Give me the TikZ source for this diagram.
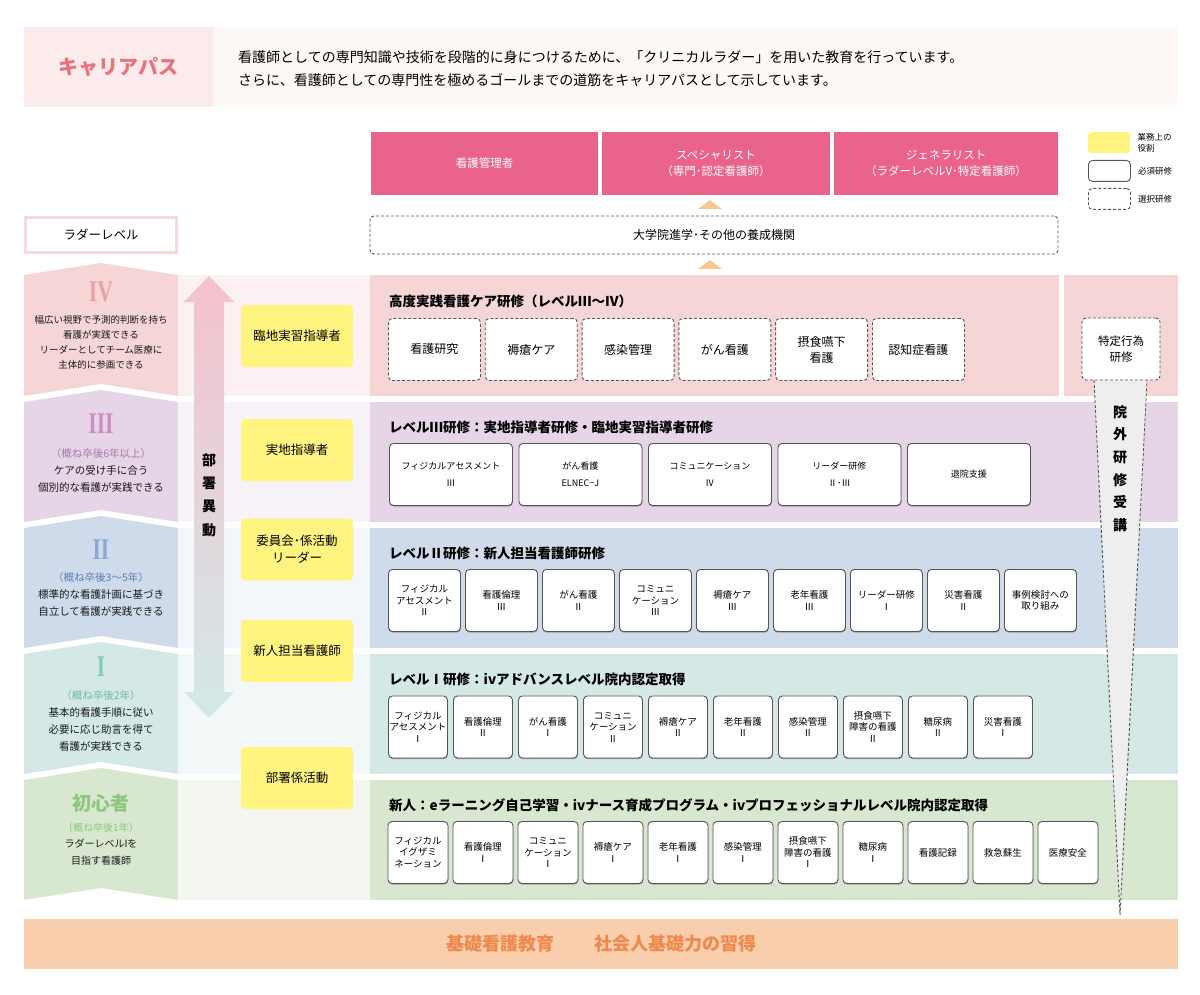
\documentclass[tikz,border=0pt]{standalone}
\usepackage{fontspec}
\setmainfont{Noto Sans CJK JP}
\newfontfamily\numfont{Liberation Serif}
\usetikzlibrary{positioning,shadows}

\newcommand{\fsz}[2]{\fontsize{#1}{#2}\selectfont}
\newcommand{\narrownum}[1]{\scalebox{0.72}[1]{#1}}

\definecolor{headpink}{HTML}{FBEBEA}
\definecolor{headlight}{HTML}{FEF8F7}
\definecolor{titlered}{HTML}{E8737C}
\definecolor{rolepink}{HTML}{E9638A}
\definecolor{triorange}{HTML}{F8C98C}
\definecolor{ladderpink}{HTML}{F8D8D9}
\definecolor{lvfour}{HTML}{F6D5D6}
\definecolor{lvthree}{HTML}{E6D4E7}
\definecolor{lvtwo}{HTML}{CFDBEA}
\definecolor{lvone}{HTML}{D4E8E6}
\definecolor{lvnew}{HTML}{D8E8D0}
\definecolor{midfour}{HTML}{FCF1F2}
\definecolor{midthree}{HTML}{F8F3F8}
\definecolor{midtwo}{HTML}{F3F6FA}
\definecolor{midone}{HTML}{F2F7F7}
\definecolor{midnew}{HTML}{F3F7F0}
\definecolor{numfour}{HTML}{EE9EA5}
\definecolor{numthree}{HTML}{C98EC6}
\definecolor{numtwo}{HTML}{8BA6D6}
\definecolor{numone}{HTML}{7ECABF}
\definecolor{numnew}{HTML}{8DC77F}
\definecolor{subthree}{HTML}{A57AA8}
\definecolor{subtwo}{HTML}{5C7EB5}
\definecolor{subone}{HTML}{6DB9AF}
\definecolor{roleyellow}{HTML}{FFF480}
\definecolor{funnelgray}{HTML}{EEEEEE}
\definecolor{basepeach}{HTML}{F9CEAD}
\definecolor{baseorange}{HTML}{F08A4C}
\definecolor{arrowtop}{HTML}{F4C1CD}
\definecolor{arrowmid}{HTML}{E6D3E6}
\definecolor{arrowbottom}{HTML}{D3E8E8}
\definecolor{boxline}{HTML}{555555}

\begin{document}
\begin{tikzpicture}[x=1pt, y=-1pt,
    rolebox/.style={fill=rolepink, text=white, inner sep=0pt, minimum height=63pt, align=center, font=\fsz{11.5}{16}},
    dutybox/.style={fill=roleyellow, rounded corners=4pt, inner sep=0pt, minimum width=112pt, minimum height=62pt, align=center, font=\fsz{12.5}{17}},
    optbox/.style={draw=boxline, fill=white, dashed, dash pattern=on 3pt off 2pt, line width=0.9pt, rounded corners=4pt, inner sep=0pt, align=center},
    reqbox/.style={draw=boxline, fill=white, line width=0.9pt, rounded corners=4pt, inner sep=0pt, align=center,
        drop shadow={shadow xshift=0.3pt, shadow yshift=-1.2pt, opacity=0.55, fill=black!60}},
    rowtitle/.style={anchor=west, inner sep=0pt, font=\fsz{13.5}{16}\bfseries},
    levelnum/.style={inner sep=0pt, font=\numfont\bfseries\fsz{30}{30}},
    leveldesc/.style={inner sep=0pt, align=center, text=black!90}]
    \useasboundingbox (0,0) rectangle (1200,995);

    % En-tete
    \fill[headpink] (24,27) rectangle (213,107);
    \fill[headlight] (213,27) rectangle (1178,107);
    \node[text=titlered, font=\fsz{20}{24}\bfseries] (title) at (118.5,67) {キャリアパス};
    \node[anchor=west, inner sep=0pt, font=\fsz{14}{16}] (intro1) at (238,57) {看護師としての専門知識や技術を段階的に身につけるために、「クリニカルラダー」を用いた教育を行っています。};
    \node[anchor=west, inner sep=0pt, font=\fsz{14}{16}] (intro2) at (238,80) {さらに、看護師としての専門性を極めるゴールまでの道筋をキャリアパスとして示しています。};

    % Roles en haut
    \node[rolebox, minimum width=227pt] (kanri) at (484.5,163.5) {看護管理者};
    \node[rolebox, minimum width=228pt] (spec) at (716,163.5) {スペシャリスト\\（専門･認定看護師）};
    \node[rolebox, minimum width=224pt] (gene) at (946,163.5) {ジェネラリスト\\（ラダーレベルV･特定看護師）};

    % Legende
    \node[fill=roleyellow, rounded corners=3pt, minimum width=42pt, minimum height=21pt, anchor=north west, inner sep=0pt] (legduty) at (1088,132) {};
    \node[right=7pt of legduty, inner sep=0pt, align=left, font=\fsz{8.5}{11}] (legdutytxt) {業務上の\\役割};
    \node[draw=boxline, line width=0.9pt, rounded corners=4pt, minimum width=42pt, minimum height=21pt, anchor=north west, inner sep=0pt] (legreq) at (1088,160) {};
    \node[right=7pt of legreq, inner sep=0pt, font=\fsz{8.5}{11}] (legreqtxt) {必須研修};
    \node[optbox, minimum width=42pt, minimum height=21pt, anchor=north west] (legopt) at (1088,188) {};
    \node[right=7pt of legopt, inner sep=0pt, font=\fsz{8.5}{11}] (legopttxt) {選択研修};

    % Triangles et organismes
    \node[optbox, minimum width=688pt, minimum height=38pt, font=\fsz{12}{14}] (grad) at (714,235) {大学院進学･その他の養成機関};
    \fill[triorange] (698,209) -- (722,209) -- (710,200) -- cycle;
    \fill[triorange] (698,269) -- (722,269) -- (710,260) -- cycle;
    \node[draw=ladderpink, line width=3pt, fill=white, minimum width=151pt, minimum height=35pt, font=\fsz{12.5}{14}] (ladder) at (101,235) {ラダーレベル};

    % Bandes des niveaux
    \foreach \yt/\yb/\col/\mid in {275/396/lvfour/midfour, 402/522/lvthree/midthree, 528/648/lvtwo/midtwo, 654/774/lvone/midone, 780/900/lvnew/midnew}{
        \fill[\col] (24,\yt) -- (101,\yt-12) -- (178,\yt) -- (178,\yb) -- (101,\yb-12) -- (24,\yb) -- cycle;
        \fill[\mid] (178,\yt) rectangle (370,\yb);
    }
    \fill[lvfour] (370,275) rectangle (1059,396);
    \fill[lvfour] (1064,275) rectangle (1178,396);
    \fill[lvthree] (370,402) rectangle (1178,522);
    \fill[lvtwo] (370,528) rectangle (1178,648);
    \fill[lvone] (370,654) rectangle (1178,774);
    \fill[lvnew] (370,780) rectangle (1178,900);

    % Colonne de gauche
    \node[levelnum, text=numfour] (numIV) at (101,292) {\narrownum{IV}};
    \node[leveldesc, font=\fsz{9.5}{15}] (descIV) at (101,342.5) {幅広い視野で予測的判断を持ち\\看護が実践できる\\リーダーとしてチーム医療に\\主体的に参画できる};
    \node[levelnum, text=numthree] (numIII) at (101,424) {\narrownum{III}};
    \node[leveldesc, font=\fsz{10.5}{17}] (descIII) at (101,470) {\textcolor{subthree}{（概ね卒後6年以上）}\\ケアの受け手に合う\\個別的な看護が実践できる};
    \node[levelnum, text=numtwo] (numII) at (101,550) {\narrownum{II}};
    \node[leveldesc, font=\fsz{10.5}{17}] (descII) at (101,594) {\textcolor{subtwo}{（概ね卒後3〜5年）}\\標準的な看護計画に基づき\\自立して看護が実践できる};
    \node[levelnum, text=numone] (numI) at (101,667) {\narrownum{I}};
    \node[leveldesc, font=\fsz{10.5}{17}] (descI) at (101,721) {\textcolor{subone}{（概ね卒後2年）}\\基本的看護手順に従い\\必要に応じ助言を得て\\看護が実践できる};
    \node[inner sep=0pt, text=numnew, font=\fsz{19}{22}\bfseries] (numnew) at (101,803) {初心者};
    \node[leveldesc, font=\fsz{10}{16.5}] (descnew) at (101,844) {\textcolor{numnew}{（概ね卒後1年）}\\ラダーレベルIを\\目指す看護師};

    % Fleche du changement de service
    \shade[top color=arrowtop, middle color=arrowmid, bottom color=arrowbottom]
        (209,276) -- (234,302) -- (224,302) -- (224,692) -- (234,692) -- (209,718)
        -- (184,692) -- (194,692) -- (194,302) -- (184,302) -- cycle;
    \node[inner sep=0pt, align=center, font=\fsz{14}{23.3}\bfseries] (idou) at (209,495) {部\\署\\異\\動};

    % Roles dans le service
    \node[dutybox] (rinchi) at (297,336) {臨地実習指導者};
    \node[dutybox] (jicchi) at (297,450) {実地指導者};
    \node[dutybox] (iinkai) at (297,549.5) {委員会･係活動\\リーダー};
    \node[dutybox] (shinjin) at (297,651) {新人担当看護師};
    \node[dutybox] (busho) at (297,778) {部署係活動};

    % Formation hors etablissement
    \coordinate (ftip) at (1120,915);
    \fill[funnelgray] (1094,380) -- (ftip) -- (1147,380) -- cycle;
    \draw[boxline, dashed, dash pattern=on 3pt off 2pt, line width=0.9pt] (1094,380) -- (ftip) -- (1147,380);
    \node[optbox, minimum width=78pt, minimum height=62pt, font=\fsz{11.5}{16}] (tokutei) at (1121,349) {特定行為\\研修};
    \node[inner sep=0pt, align=center, font=\fsz{14}{22.6}\bfseries] (ingai) at (1120,468.5) {院\\外\\研\\修\\受\\講};

    % Niveau IV
    \node[rowtitle] (titleIV) at (389,301) {高度実践看護ケア研修（レベルⅢ〜Ⅳ）};
    \foreach \t [count=\i from 0] in {看護研究, 褥瘡ケア, 感染管理, がん看護, {摂食嚥下\\看護}, 認知症看護}
        \node[optbox, anchor=north west, minimum width=92pt, minimum height=62pt, font=\fsz{12}{16}] (adv\i) at ({388+96.8*\i},318) {\t};

    % Niveau III
    \node[rowtitle] (titleIII) at (389,427) {レベルⅢ研修：実地指導者研修・臨地実習指導者研修};
    \foreach \t [count=\i from 0] in {{フィジカルアセスメント\\Ⅲ}, {がん看護\\ELNEC−J}, {コミュニケーション\\Ⅳ}, {リーダー研修\\Ⅱ･Ⅲ}, 退院支援}
        \node[reqbox, anchor=north west, minimum width=123pt, minimum height=62pt, font=\fsz{9}{17}] (lvIIIbox\i) at ({389+129.5*\i},443) {\t};

    % Niveau II
    \node[rowtitle] (titleII) at (389,553) {レベルⅡ研修：新人担当看護師研修};
    \foreach \t [count=\i from 0] in {{フィジカル\\アセスメント\\Ⅱ}, {看護倫理\\Ⅲ}, {がん看護\\Ⅱ}, {コミュニ\\ケーション\\Ⅲ}, {褥瘡ケア\\Ⅲ}, {老年看護\\Ⅲ}, {リーダー研修\\Ⅰ}, {災害看護\\Ⅱ}, {事例検討への\\取り組み}}
        \node[reqbox, anchor=north west, minimum width=72pt, minimum height=62pt, font=\fsz{9.5}{11.5}] (lvIIbox\i) at ({388+77*\i},569) {\t};

    % Niveau I
    \node[rowtitle] (titleI) at (389,679) {レベルⅠ研修：ivアドバンスレベル院内認定取得};
    \foreach \t [count=\i from 0] in {{フィジカル\\アセスメント\\Ⅰ}, {看護倫理\\Ⅱ}, {がん看護\\Ⅰ}, {コミュニ\\ケーション\\Ⅱ}, {褥瘡ケア\\Ⅱ}, {老年看護\\Ⅱ}, {感染管理\\Ⅱ}, {摂食嚥下\\障害の看護\\Ⅱ}, {糖尿病\\Ⅱ}, {災害看護\\Ⅰ}}
        \node[reqbox, anchor=north west, minimum width=59pt, minimum height=62pt, font=\fsz{9.5}{11.5}] (lvIbox\i) at ({388+65*\i},695.5) {\t};

    % Nouveaux
    \node[rowtitle] (titlenew) at (389,805) {新人：eラーニング自己学習・ivナース育成プログラム・ivプロフェッショナルレベル院内認定取得};
    \foreach \t [count=\i from 0] in {{フィジカル\\イグザミ\\ネーション}, {看護倫理\\Ⅰ}, {コミュニ\\ケーション\\Ⅰ}, {褥瘡ケア\\Ⅰ}, {老年看護\\Ⅰ}, {感染管理\\Ⅰ}, {摂食嚥下\\障害の看護\\Ⅰ}, {糖尿病\\Ⅰ}, 看護記録, 救急蘇生, 医療安全}
        \node[reqbox, anchor=north west, minimum width=60pt, minimum height=62pt, font=\fsz{9.5}{11.5}] (newbox\i) at ({387.5+65*\i},821) {\t};

    % Base
    \node[fill=basepeach, minimum width=1154pt, minimum height=50pt, inner sep=0pt, text=baseorange, font=\fsz{18}{20}\bfseries] (base) at (601,944) {基礎看護教育\hspace{40pt}社会人基礎力の習得};
\end{tikzpicture}
\end{document}
